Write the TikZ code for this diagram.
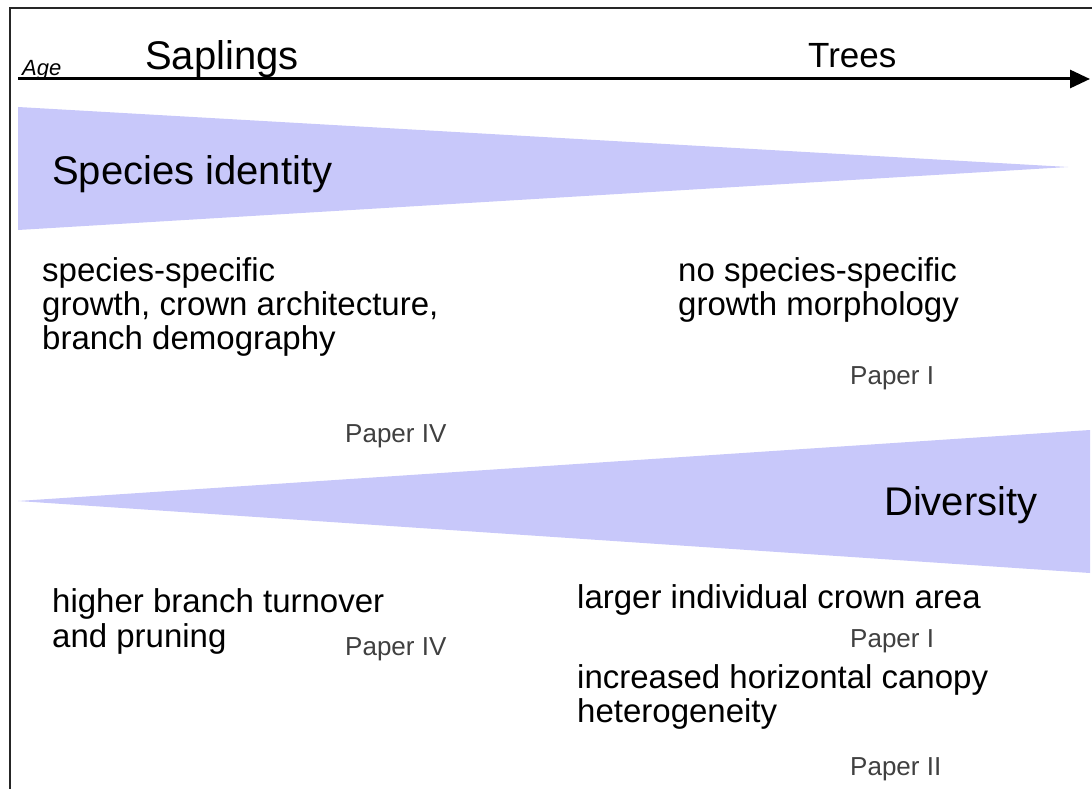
\documentclass[tikz,border=0pt]{standalone}
\usepackage{fontspec}
\setmainfont{Liberation Sans}
\usetikzlibrary{arrows.meta}
\definecolor{lav}{RGB}{200,200,250}
\begin{document}
\begin{tikzpicture}[x=1pt,y=-1pt,
  txt/.style={anchor=base west,inner sep=0pt,font=\fontsize{33}{34}\selectfont},
  big/.style={anchor=base west,inner sep=0pt,font=\fontsize{40}{42}\selectfont},
  paper/.style={anchor=base west,inner sep=0pt,text=black!75,font=\fontsize{26}{28}\selectfont},
  wedge/.style={fill=lav,draw=none}]
\useasboundingbox (0,0) rectangle (1092,789);
\fill[white] (0,0) rectangle (1092,789);
% frame
\draw[line width=1.5pt,black!85] (10,789) -- (10,8) -- (1092,8);
% wedges
\fill[wedge] (18,107) -- (1068,167) -- (18,230) -- cycle;
\fill[wedge] (18,501) -- (1090,430) -- (1090,573) -- cycle;
% axis
\coordinate (a0) at (18,79);
\coordinate (a1) at (1090,79);
\draw[line width=3pt,-{Triangle[length=20pt,width=18pt]}] (a0) -- (a1);
\node[anchor=base west,inner sep=0pt,font=\fontsize{22}{23}\selectfont\itshape] (age) at (22,76) {Age};
\node[big] (sap) at (145,70) {Saplings};
\node[anchor=base west,inner sep=0pt,font=\fontsize{35}{36}\selectfont] (trees) at (808,68) {Trees};
\node[big] (spid) at (52,184) {Species identity};
\node[big] (div) at (884,515) {Diversity};
% upper texts
\node[txt] (l1) at (42,281) {species-specific};
\node[txt] (l2) at (42,315) {growth, crown architecture,};
\node[txt] (l3) at (42,349) {branch demography};
\node[paper] (p4a) at (345,442) {Paper IV};
\node[txt] (r1) at (678,281) {no species-specific};
\node[txt] (r2) at (678,315) {growth morphology};
\node[paper] (p1a) at (850,384) {Paper I};
% lower texts
\node[txt] (m1) at (52,612) {higher branch turnover};
\node[txt] (m2) at (52,647) {and pruning};
\node[paper] (p4b) at (345,655) {Paper IV};
\node[txt] (n1) at (577,608) {larger individual crown area};
\node[paper] (p1b) at (850,647) {Paper I};
\node[txt] (n2) at (577,688) {increased horizontal canopy};
\node[txt] (n3) at (577,722) {heterogeneity};
\node[paper] (p2) at (850,775) {Paper II};
\end{tikzpicture}
\end{document}
